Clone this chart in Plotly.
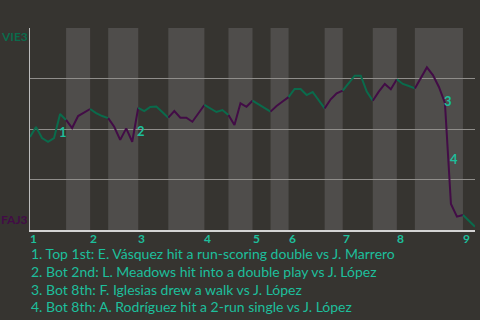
import plotly.graph_objects as go

# Win probability for VIE (top team) after each plate appearance (index 0 = start)
vie_prob = [0.460, 0.510, 0.455, 0.436, 0.455, 0.574, 0.545,
            0.505, 0.564, 0.582, 0.599,
            0.579, 0.564, 0.554,
            0.511, 0.446, 0.503, 0.437, 0.605,
            0.589, 0.609, 0.611, 0.584, 0.556,
            0.589, 0.556, 0.556, 0.536, 0.579, 0.619,
            0.601, 0.584, 0.594, 0.569,
            0.520, 0.627, 0.610, 0.640,
            0.621, 0.606, 0.586,
            0.614, 0.636, 0.658,
            0.698, 0.698, 0.668, 0.683, 0.641, 0.602,
            0.647, 0.677, 0.690,
            0.728, 0.764, 0.764, 0.685, 0.640,
            0.685, 0.723, 0.697, 0.746,
            0.723, 0.713, 0.701,
            0.755, 0.805, 0.767, 0.708, 0.629, 0.129, 0.066, 0.074,
            0.045, 0.016]

# plate appearances per half inning (top 1st, bottom 1st, ... top 9th)
half_inning_pa = [6, 4, 3, 5, 5, 6, 4, 4, 3, 3, 6, 3, 5, 4, 3, 8, 2]
inning_labels = ["1", "2", "3", "4", "5", "6", "7", "8", "9"]

# key events: plate appearance index and description
event_pa = [5, 18, 69, 70]
event_text = [
    "1. Top 1st: E. Vásquez hit a run-scoring double vs J. Marrero",
    "2. Bot 2nd: L. Meadows hit into a double play vs J. López",
    "3. Bot 8th: F. Iglesias drew a walk vs J. López",
    "4. Bot 8th: A. Rodríguez hit a 2-run single vs J. López",
]
top_team, bottom_team = "VIE3", "FAJ3"

BG = "#363430"
BAND = "#4f4d4b"
GREEN = "#0a6b4c"
PURPLE = "#420c46"
TEAL = "#1dbf9c"

fig = go.Figure()
shapes = []
annotations = []

start = 0
for i, n in enumerate(half_inning_pa):
    end = start + n
    is_top = (i % 2 == 0)
    xs = list(range(start, end + 1))
    ys = vie_prob[start:end + 1]
    fig.add_trace(go.Scatter(x=xs, y=ys, mode="lines",
                             line=dict(color=GREEN if is_top else PURPLE, width=2),
                             hoverinfo="skip", showlegend=False))
    if not is_top:
        shapes.append(dict(type="rect", xref="x", yref="y", x0=start, x1=end,
                           y0=0, y1=1, fillcolor=BAND, line=dict(width=0),
                           layer="below"))
    else:
        annotations.append(dict(x=start, y=0, xref="x", yref="y",
                                text="<b>%s</b>" % inning_labels[i // 2],
                                showarrow=False, xanchor="left", yanchor="top",
                                yshift=1, xshift=-2,
                                font=dict(color=TEAL, size=12, family="Lato")))
    start = end

total = start

for k, txt in zip(event_pa, event_text):
    mx = k - 0.5
    my = (vie_prob[k - 1] + vie_prob[k]) / 2
    annotations.append(dict(x=mx, y=my, xref="x", yref="y",
                            text="<b>%s</b>" % txt.split(".")[0],
                            showarrow=False, xanchor="left", yanchor="top",
                            xshift=0, yshift=4,
                            font=dict(color=TEAL, size=13, family="Lato")))

# team labels
annotations.append(dict(x=0, y=1, xref="paper", yref="y", text="<b>%s</b>" % top_team,
                        showarrow=False, xanchor="left", yanchor="top",
                        xshift=-31, yshift=1,
                        font=dict(color=GREEN, size=12, family="Lato")))
annotations.append(dict(x=0, y=0, xref="paper", yref="y", text="<b>%s</b>" % bottom_team,
                        showarrow=False, xanchor="left", yanchor="bottom",
                        xshift=-31, yshift=1,
                        font=dict(color=PURPLE, size=12, family="Lato")))

plot_h = 202
for j, txt in enumerate(event_text):
    py = 254 + j * 17.8
    annotations.append(dict(x=0, y=(230 - py) / plot_h, xref="paper", yref="paper",
                            text=txt, showarrow=False, xanchor="left",
                            yanchor="middle", xshift=-1, yshift=0.5,
                            font=dict(color=TEAL, size=14, family="Lato")))

fig.update_layout(
    width=480, height=320,
    margin=dict(l=30, r=5, t=28, b=90),
    paper_bgcolor=BG, plot_bgcolor=BG,
    shapes=shapes, annotations=annotations,
    xaxis=dict(range=[0, total], showgrid=False, zeroline=False,
               showticklabels=False, showline=True, linecolor="#d4d4d4",
               linewidth=1.5, ticks=""),
    yaxis=dict(range=[0, 1], tickvals=[0.25, 0.5, 0.75, 1.0], showgrid=True,
               gridcolor="#8f8d8a", gridwidth=1, zeroline=False,
               showticklabels=False, showline=True, linecolor="#bdbdbd",
               linewidth=1, ticks=""),
)

fig.write_html("out.html", config={"displayModeBar": False})
